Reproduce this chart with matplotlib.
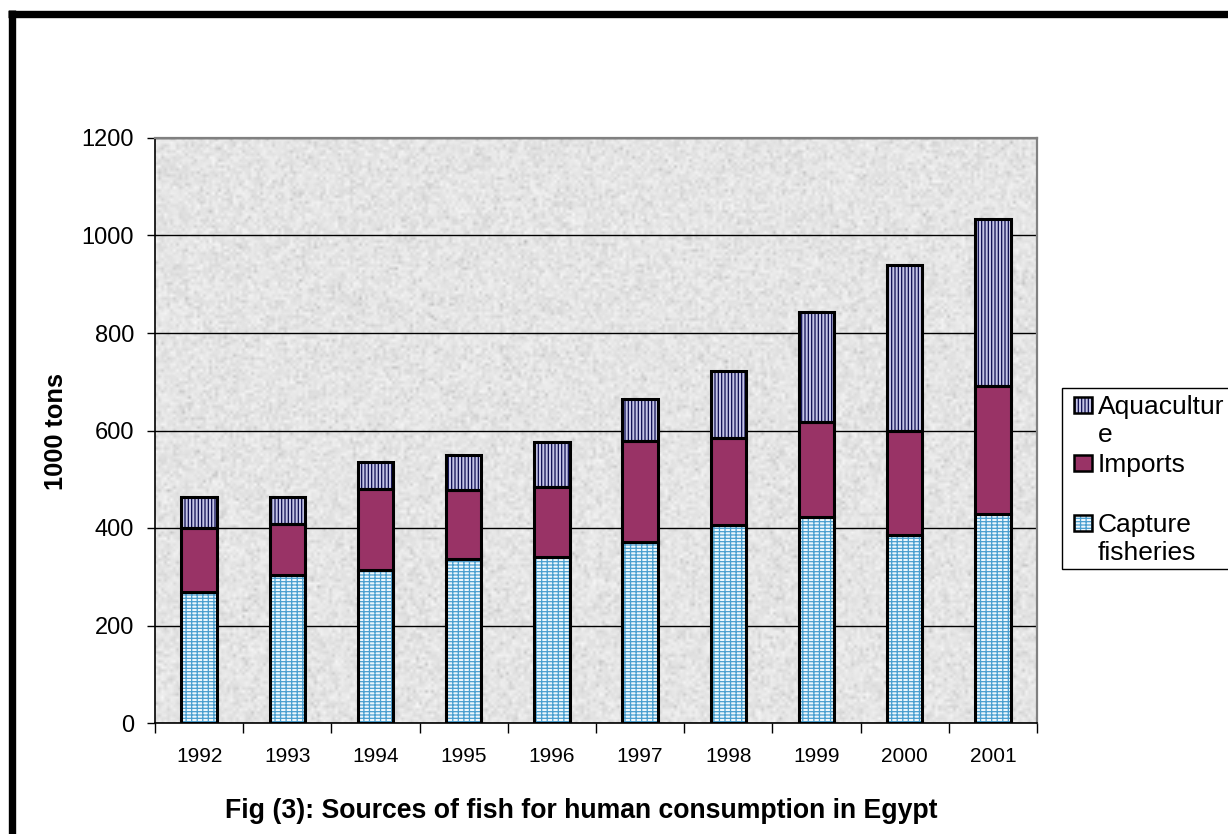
import numpy as np
import matplotlib
matplotlib.use("Agg")
import matplotlib.pyplot as plt
from matplotlib.patches import Rectangle
from matplotlib.lines import Line2D

plt.rcParams['font.family'] = ['Liberation Sans', 'DejaVu Sans']

# ---- data ----
years = ['1992', '1993', '1994', '1995', '1996', '1997', '1998', '1999', '2000', '2001']
capture = [268, 303, 314, 336, 341, 372, 406, 423, 385, 429]
imports = [133, 105, 167, 141, 144, 207, 178, 194, 215, 262]
aquaculture = [62, 55, 54, 73, 92, 86, 138, 226, 339, 342]
series_labels = ['Capture\nfisheries', 'Imports', 'Aquacultur\ne']
yticks = [0, 200, 400, 600, 800, 1000, 1200]
title = 'Fig (3): Sources of fish for human consumption in Egypt'
ylabel = '1000 tons'

W, H = 1228, 834
fig = plt.figure(figsize=(W / 100, H / 100), dpi=100)
fig.patch.set_facecolor('white')

def fx(px):
    return px / W

def fy(py):
    return 1 - py / H

ax = fig.add_axes([fx(155), fy(723), fx(1037) - fx(155), fy(138) - fy(723)])

# granite-like texture background (decoration only)
rng = np.random.default_rng(7)
n = rng.random((585, 882))
n = n.reshape(195, 3, 294, 3).mean(axis=(1, 3))
tex = 0.975 - 0.32 * n ** 2
ax.imshow(tex, cmap='gray', vmin=0, vmax=1, extent=(-0.5, 9.5, 0, 1200),
          aspect='auto', interpolation='bilinear', zorder=0)

x = np.arange(len(years))
width = 0.4
plt.rcParams['hatch.linewidth'] = 0.9

cap = np.array(capture)
imp = np.array(imports)
aqu = np.array(aquaculture)

# capture fisheries (brick-like light blue)
ax.bar(x, cap, width, color='#eef8fd', edgecolor='#4a9fd0', hatch='-----|||', linewidth=0, zorder=2)
ax.bar(x, cap, width, fill=False, edgecolor='black', linewidth=2.2, zorder=3)
# imports
ax.bar(x, imp, width, bottom=cap, color='#993366', edgecolor='black', linewidth=2.2, zorder=3)
# aquaculture
ax.bar(x, aqu, width, bottom=cap + imp, color='#c4c4e6', edgecolor='#0c0c50', hatch='|||||', linewidth=0, zorder=2)
ax.bar(x, aqu, width, bottom=cap + imp, fill=False, edgecolor='black', linewidth=2.2, zorder=3)

ax.set_xlim(-0.5, len(years) - 0.5)
ax.set_ylim(0, 1200)
ax.set_yticks(yticks)
ax.set_yticklabels([str(v) for v in yticks], fontsize=17)
ax.set_xticks(x)
ax.set_xticklabels(years, fontsize=15)
ax.set_xticks(np.arange(-0.5, len(years), 1), minor=True)
ax.tick_params(axis='x', which='major', length=0, pad=17)
ax.tick_params(axis='x', which='minor', length=7, width=1, direction='out')
ax.tick_params(axis='y', length=6, width=1, direction='out', pad=9)

ax.set_axisbelow(True)
ax.yaxis.grid(True, color='black', linewidth=1.0)
ax.xaxis.grid(False)

ax.spines['left'].set_color('black')
ax.spines['bottom'].set_color('black')
ax.spines['left'].set_linewidth(1.2)
ax.spines['bottom'].set_linewidth(1.2)
for s in ('top', 'right'):
    ax.spines[s].set_color('#808080')
    ax.spines[s].set_linewidth(1.6)

# y label and caption
fig.text(fx(56), fy(432), ylabel, rotation=90, ha='center', va='center',
         fontsize=18.3, fontweight='bold')
fig.text(fx(581), fy(811), title, ha='center', va='center',
         fontsize=19.2, fontweight='bold')

# legend (drawn manually to mimic the clipped Excel legend box)
fig.add_artist(Rectangle((fx(1062), fy(569)), fx(1240) - fx(1062), fy(388) - fy(569),
                         transform=fig.transFigure, facecolor='white', edgecolor='black',
                         linewidth=1.0))
leg_styles = [
    dict(facecolor='#eef8fd', edgecolor='#4a9fd0', hatch='-----|||'),
    dict(facecolor='#993366', edgecolor='#993366', hatch=None),
    dict(facecolor='#c4c4e6', edgecolor='#0c0c50', hatch='|||||'),
]
leg_top = [515, 455, 397]   # cap-top of first line, px
for lab, st, top in zip(series_labels, leg_styles, leg_top):
    fig.add_artist(Rectangle((fx(1074), fy(top + 16)), fx(18), 16 / H,
                             transform=fig.transFigure, linewidth=0, **st))
    fig.add_artist(Rectangle((fx(1074), fy(top + 16)), fx(18), 16 / H,
                             transform=fig.transFigure, fill=False,
                             edgecolor='black', linewidth=1.8))
    fig.text(fx(1098), fy(top - 2), lab, ha='left', va='top', fontsize=19,
             linespacing=1.2)

# thick figure border (top and left)
fig.add_artist(Line2D([fx(8), 1], [fy(13.5), fy(13.5)], transform=fig.transFigure,
                      color='black', linewidth=5.3, solid_capstyle='butt'))
fig.add_artist(Line2D([fx(11.5), fx(11.5)], [0, fy(10)], transform=fig.transFigure,
                      color='black', linewidth=5.3, solid_capstyle='butt'))

fig.savefig('out.png', dpi=100)
